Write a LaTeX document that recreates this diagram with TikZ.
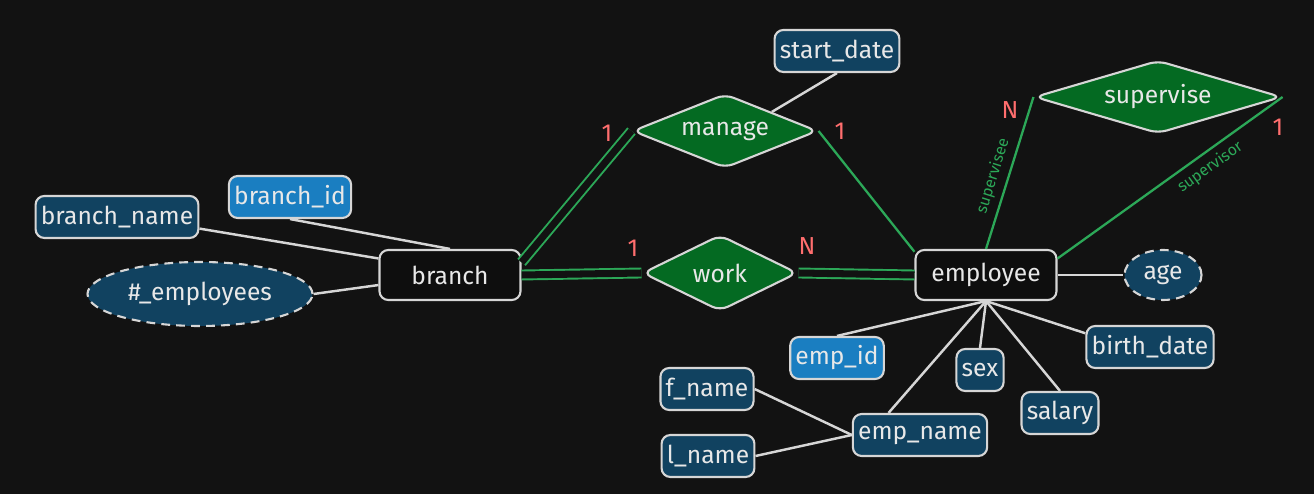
\documentclass[tikz,border=0pt]{standalone}
\usepackage{fontspec}
\setmainfont{Fira Sans}
\usetikzlibrary{shapes.geometric}
\definecolor{bgcol}{RGB}{18,18,18}
\definecolor{entblack}{RGB}{14,14,14}
\definecolor{attrblue}{RGB}{17,66,96}
\definecolor{keyblue}{RGB}{26,126,193}
\definecolor{relgreen}{RGB}{4,106,34}
\definecolor{linkgreen}{RGB}{44,168,88}
\definecolor{cardred}{RGB}{255,110,110}
\definecolor{edgegray}{RGB}{214,214,214}
\definecolor{txtgray}{RGB}{232,232,232}

\begin{document}
\begin{tikzpicture}[
  every node/.style={text=txtgray, font=\fontsize{14}{16}\selectfont},
  attr/.style={draw=edgegray, line width=1.2pt, fill=attrblue, rounded corners=5pt, minimum height=0.84cm, inner xsep=3pt},
  keyattr/.style={attr, fill=keyblue},
  derived/.style={ellipse, draw=edgegray, line width=1.2pt, dash pattern=on 5pt off 3.5pt, fill=attrblue},
  entity/.style={draw=edgegray, line width=1.2pt, fill=entblack, rounded corners=5pt, minimum width=2.82cm, minimum height=1cm},
  rel/.style={diamond, aspect=3, draw=edgegray, line width=1.2pt, fill=relgreen, rounded corners=5pt, inner sep=0pt},
  link/.style={draw=edgegray, line width=1.4pt},
  roleline/.style={draw=linkgreen, line width=1.3pt},
  totalline/.style={draw=linkgreen, line width=1.1pt, double=bgcol, double distance=4pt},
  card/.style={text=cardred},
  role/.style={text=linkgreen, font=\fontsize{9}{10}\selectfont},
]
\fill[bgcol] (0,0) rectangle (26.28,9.88);

% entities
\node[entity] (branch) at (9.00,4.38) {branch};
\node[entity] (employee) at (19.72,4.38) {employee};

% relationships
\node[rel, minimum width=3.7cm, minimum height=1.48cm] (manage) at (14.50,7.26) {manage};
\node[rel, minimum width=3.1cm, minimum height=1.52cm] (work) at (14.40,4.42) {work};
\node[rel, minimum width=4.94cm, minimum height=1.46cm] (supervise) at (23.16,7.94) {supervise};

% branch attributes
\node[attr] (branchname) at (2.34,5.54) {branch\_name};
\node[keyattr] (branchid) at (5.80,5.94) {branch\_id};
\node[derived, minimum width=4.5cm, minimum height=1.28cm] (empcount) at (4.00,4.00) {\#\_employees};

% relationship attribute
\node[attr] (startdate) at (16.74,8.86) {start\_date};

% employee attributes
\node[derived, minimum width=1.54cm, minimum height=1cm, inner sep=0pt] (age) at (23.26,4.38) {age};
\node[keyattr] (empid) at (16.74,2.72) {emp\_id};
\node[attr] (sex) at (19.60,2.48) {sex};
\node[attr] (birthdate) at (23.00,2.94) {birth\_date};
\node[attr] (salary) at (21.20,1.62) {salary};
\node[attr] (empname) at (18.40,1.18) {emp\_name};
\node[attr] (fname) at (14.14,2.10) {f\_name};
\node[attr] (lname) at (14.16,0.76) {l\_name};

% attribute links
\draw[link] (branchname.-8) -- (branch.167);
\draw[link] (branchid.south) -- (branch.north);
\draw[link] (empcount.east) -- (branch.188);
\draw[link] (manage.north east) -- (startdate.south);
\draw[link] (employee.east) -- (age.west);
\foreach \a in {empid.north, sex.north, birthdate.168, salary.north, empname.145}
  \draw[link] (employee.south) -- (\a);
\draw[link] (empname.west) -- (fname.east);
\draw[link] (empname.west) -- (lname.east);

% relationship links
\draw[totalline] (branch.10) -- (manage.west);
\draw[roleline] (manage.east) -- (employee.162);
\draw[totalline] (branch.east) -- (work.west);
\draw[totalline] (work.east) -- (employee.west);
\draw[roleline] (employee.north) -- node[role, pos=0.45, sloped, above] {supervisee} (supervise.west);
\draw[roleline] (employee.13) -- node[role, pos=0.64, sloped, below] {supervisor} (supervise.east);

% cardinalities
\node[card] (cm1) at (12.14,7.22) {1};
\node[card] (cm2) at (16.80,7.26) {1};
\node[card] (cw1) at (12.66,4.92) {1};
\node[card] (cw2) at (16.14,4.96) {N};
\node[card] (cs1) at (20.20,7.68) {N};
\node[card] (cs2) at (25.56,7.34) {1};

\end{tikzpicture}
\end{document}
